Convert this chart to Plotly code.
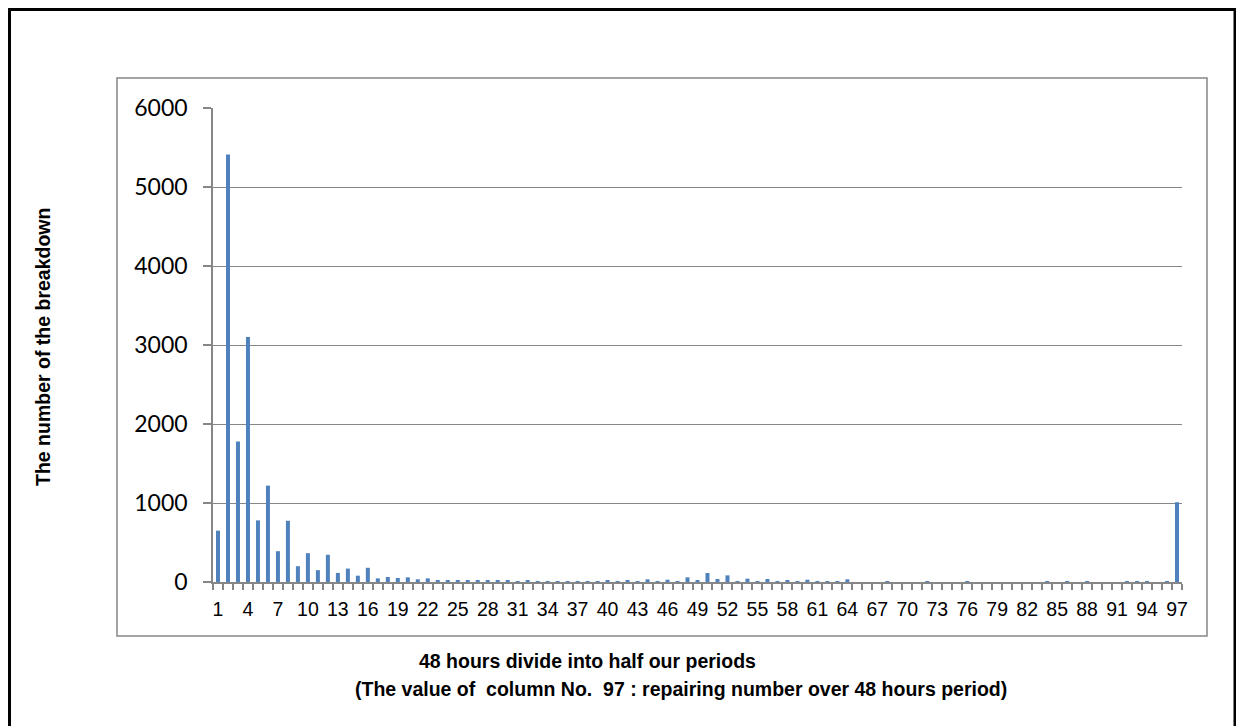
import plotly.graph_objects as go

periods = list(range(1, 98))
breakdowns = [
    650, 5410, 1780, 3100, 780, 1220, 390, 775, 200, 365,
    150, 345, 115, 170, 80, 180, 46, 63, 51, 59,
    34, 46, 25, 25, 21, 25, 25, 17, 17, 21,
    12, 25, 10, 12, 5, 12, 12, 12, 12, 25,
    10, 25, 12, 34, 12, 29, 12, 59, 25, 114,
    38, 84, 12, 42, 12, 38, 10, 25, 10, 29,
    3, 12, 10, 34, 0, 0, 0, 2, 0, 0,
    0, 8, 0, 0, 0, 3, 0, 0, 0, 0,
    0, 0, 0, 3, 0, 8, 0, 2, 0, 0,
    0, 2, 2, 6, 0, 12, 1010,
]
x_tick_labels = list(range(1, 98, 3))
y_ticks = [0, 1000, 2000, 3000, 4000, 5000, 6000]

x_title_1 = "48 hours divide into half our periods"
x_title_2 = "(The value of\u00a0 column No.\u00a0 97 : repairing number over 48 hours period)"
y_title = "The number of the breakdown"

OFF = 8  # page body margin
W, H = 1236, 718
L, R, T, B = 213 - OFF, 1182 - OFF, 108 - OFF, 582 - OFF
pw, ph = R - L, B - T


def px(x):
    return (x - OFF - L) / pw


def py(y):
    return (B - (y - OFF)) / ph


GRAY = "#868686"

fig = go.Figure(
    go.Bar(
        x=periods,
        y=breakdowns,
        width=0.4,
        marker=dict(color="#4F81BD", line=dict(width=0)),
    )
)

fig.update_layout(
    width=W,
    height=H,
    margin=dict(l=L, r=W - R, t=T, b=H - B, pad=0),
    paper_bgcolor="white",
    plot_bgcolor="white",
    showlegend=False,
    font=dict(family="Liberation Sans, Arial", color="black"),
)

fig.update_xaxes(
    range=[0.5, 97.5],
    tickmode="array",
    tickvals=x_tick_labels,
    ticktext=[str(v) for v in x_tick_labels],
    ticks="",
    showgrid=False,
    zeroline=False,
    showline=True,
    linecolor=GRAY,
    linewidth=1.5,
    tickfont=dict(family="Liberation Sans, Arial", size=19.5, color="black"),
    ticklabelstandoff=9,
    minor=dict(tick0=0.5, dtick=1, ticks="outside", ticklen=6, tickcolor=GRAY, tickwidth=1.5, showgrid=False),
)

fig.update_yaxes(
    range=[0, 6000],
    tickmode="array",
    tickvals=y_ticks,
    ticktext=[str(v) for v in y_ticks],
    ticks="outside",
    ticklen=8,
    tickcolor=GRAY,
    tickwidth=1.5,
    showgrid=True,
    gridcolor=GRAY,
    gridwidth=1.3,
    zeroline=False,
    showline=True,
    linecolor=GRAY,
    linewidth=1.5,
    tickfont=dict(family="Lato", size=23, color="black"),
    ticklabelstandoff=11,
)

# outer frame and chart-area border
fig.add_shape(type="rect", xref="paper", yref="paper",
              x0=px(9.5), x1=px(1235), y0=py(760), y1=py(9.5),
              line=dict(color="black", width=3), fillcolor="rgba(0,0,0,0)", layer="below")
fig.add_shape(type="rect", xref="paper", yref="paper",
              x0=px(117), x1=px(1207), y0=py(636), y1=py(78),
              line=dict(color=GRAY, width=1.5), fillcolor="rgba(0,0,0,0)", layer="below")

TITLE_FONT = dict(family="Liberation Sans, Arial", size=19.5, color="black")
fig.add_annotation(text="<b>" + y_title + "</b>", xref="paper", yref="paper",
                   x=px(43), y=py(347), textangle=-90, showarrow=False,
                   font=TITLE_FONT, xanchor="center", yanchor="middle")
fig.add_annotation(text="<b>" + x_title_1 + "</b>", xref="paper", yref="paper",
                   x=px(587), y=py(661), showarrow=False,
                   font=TITLE_FONT, xanchor="center", yanchor="middle")
fig.add_annotation(text="<b>" + x_title_2 + "</b>", xref="paper", yref="paper",
                   x=px(681), y=py(689), showarrow=False,
                   font=TITLE_FONT, xanchor="center", yanchor="middle")

fig.write_html("out.html")
